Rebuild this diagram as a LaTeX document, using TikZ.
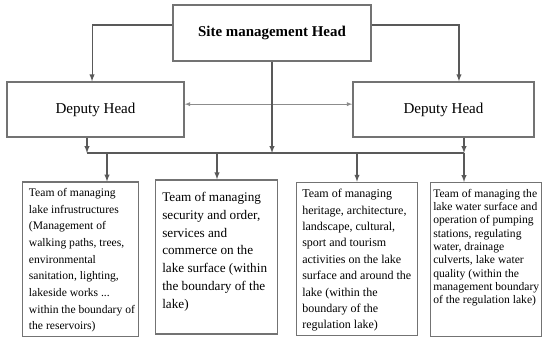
\documentclass[tikz,border=0pt]{standalone}
\usepackage{fontspec}
\setmainfont{Liberation Serif}
\usepackage{tikz}
\usetikzlibrary{shapes,arrows,positioning}
\tikzstyle{arrow} = [thick,->,>=latex,draw=black!65]
\tikzstyle{line} = [thick,draw=black!65]
\tikzstyle{box} = [draw=black!55,line width=1.1pt,rectangle,inner sep=0pt]
\tikzstyle{teamtext} = [anchor=north west,align=left,inner sep=0pt]

\begin{document}
\begin{tikzpicture}[x=0.75pt,y=-0.75pt]
    \useasboundingbox (0,0) rectangle (542,338);
    % Define nodes
    \node[box,
    minimum width=148.5pt,
    minimum height=42pt,
    font=\fontsize{11.2}{13}\selectfont\bfseries] (head) at (272,33) {Site management Head};

    \node[box,
    minimum width=132.75pt,
    minimum height=41.25pt,
    font=\fontsize{11.3}{13}\selectfont] (deputy1) at (95.5,109.5) {Deputy Head};

    \node[box,
    minimum width=135.75pt,
    minimum height=41.25pt,
    font=\fontsize{11.3}{13}\selectfont] (deputy2) at (443.5,109.5) {Deputy Head};

    % Team boxes
    \node[box,
    anchor=north west,
    minimum width=87pt,
    minimum height=115.5pt] (team1) at (22,181.5) {};
    \node[teamtext,
    font=\fontsize{8.7}{12.5}\selectfont] (text1) at ([shift={(5pt,-5pt)}]team1.north west)
    {Team of managing\\lake infrustructures\\(Management of\\walking paths, trees,\\environmental\\sanitation, lighting,\\lakeside works ...\\within the boundary of\\the reservoirs)};

    \node[box,
    anchor=north west,
    minimum width=91.5pt,
    minimum height=115.5pt] (team2) at (155,179.3) {};
    \node[teamtext,
    font=\fontsize{9.9}{13.3}\selectfont] (text2) at ([shift={(5.25pt,-9.7pt)}]team2.north west)
    {Team of managing\\security and order,\\services and\\commerce on the\\lake surface (within\\the boundary of the\\lake)};

    \node[box,
    anchor=north west,
    minimum width=90.5pt,
    minimum height=114.75pt] (team3) at (296,181.7) {};
    \node[teamtext,
    font=\fontsize{9}{12.3}\selectfont] (text3) at ([shift={(4.5pt,-5.5pt)}]team3.north west)
    {Team of managing\\heritage, architecture,\\landscape, cultural,\\sport and tourism\\activities on the lake\\surface and around the\\lake (within the\\boundary of the\\regulation lake)};

    \node[box,
    anchor=north west,
    minimum width=83.25pt,
    minimum height=115.5pt] (team4) at (430,182) {};
    \node[teamtext,
    font=\fontsize{8.7}{10}\selectfont] (text4) at ([shift={(2.25pt,-5pt)}]team4.north west)
    {Team of managing the\\lake water surface and\\operation of pumping\\stations, regulating\\water, drainage\\culverts, lake water\\quality (within the\\management boundary\\of the regulation lake)};

    % Bus and taps
    \coordinate (busL) at (87,153);
    \coordinate (busR) at (464,153);
    \coordinate (tap1) at (107,153);
    \coordinate (tap2) at (217,153);
    \coordinate (tap3) at (357,153);
    \coordinate (tap4) at (464,153);

    \draw [arrow] ([yshift=6pt]head.west) -| ([xshift=-2.6pt]deputy1.north);
    \draw [arrow] ([yshift=6pt]head.east) -| ([xshift=11.6pt]deputy2.north);
    \draw [thin,<->,>=latex,draw=black!45] ([yshift=4pt]deputy1.east) -- ([yshift=4pt]deputy2.west);
    \draw [line] (busL) -- (busR);
    \draw [arrow] (deputy1.south -| busL) -- (busL);
    \draw [arrow] (head.south) -- (head.south |- busL);
    \draw [arrow] (deputy2.south -| busR) -- (busR);
    \draw [arrow] (tap1) -- (tap1 |- team1.north);
    \draw [arrow] (tap2) -- (tap2 |- team2.north);
    \draw [arrow] (tap3) -- (tap3 |- team3.north);
    \draw [arrow] (tap4) -- (tap4 |- team4.north);

\end{tikzpicture}
\end{document}
